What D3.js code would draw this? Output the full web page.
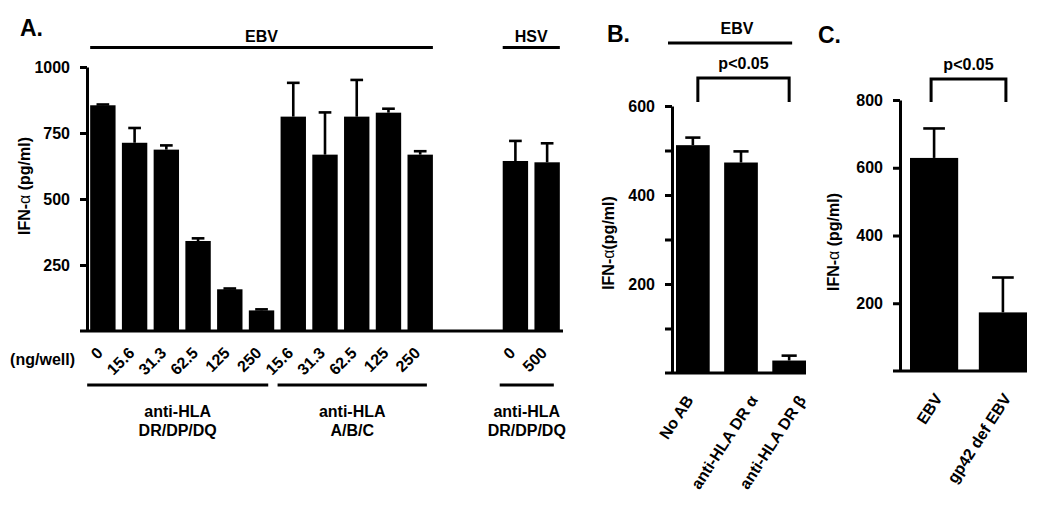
<!DOCTYPE html>
<html>
<head>
<meta charset="utf-8">
<script src="https://cdn.jsdelivr.net/npm/d3@7"></script>
<style>
  body { margin: 0; background: #fff; }
  svg { display: block; font-family: "Liberation Sans", Arial, Helvetica, sans-serif; font-weight: bold; }
  .axis path, .axis line { stroke: #000; stroke-width: 3; }
  .axis text { font-size: 16px; font-weight: bold; fill: #000; }
</style>
</head>
<body>
<svg id="chart" width="1050" height="513"></svg>
<script>
// ---- panel A : dose response, 15 slots (two empty spacers before HSV)
var doseLabelsA = ["0", "15.6", "31.3", "62.5", "125", "250", "15.6", "31.3", "62.5", "125", "250", "", "", "0", "500"];
var valuesA = [855, 713, 687, 341, 158, 78, 812, 668, 812, 827, 668, null, null, 644, 639];
var errorsA = [3, 56, 16, 10, 3, 4, 128, 160, 139, 15, 13, null, null, 76, 72];
var ticksA = [250, 500, 750, 1000];
var virusNamesA = ["EBV", "HSV"];
var virusSpansA = [[0, 10], [13, 14]];
var groupNamesA = [["anti-HLA", "DR/DP/DQ"], ["anti-HLA", "A/B/C"], ["anti-HLA", "DR/DP/DQ"]];
var groupSpansA = [[0, 5], [6, 10], [13, 14]];

// ---- panel B
var categoriesB = ["No AB", "anti-HLA DR α", "anti-HLA DR β"];
var valuesB = [512, 473, 28];
var errorsB = [17, 25, 11];
var ticksB = [100, 200, 300, 400, 500, 600];

// ---- panel C
var categoriesC = ["EBV", "gp42 def EBV"];
var valuesC = [629, 173];
var errorsC = [87, 103];
var ticksC = [200, 400, 600, 800];

var svg = d3.select("#chart");

function drawBars(g, x, y, keys, values, errors, capFrac) {
    var bw = x.bandwidth();
    var rows = keys.map(function (k, i) { return {k: k, v: values[i], e: errors[i]}; })
        .filter(function (d) { return d.v !== null; });
    g.selectAll("rect.bar").data(rows).join("rect")
        .attr("class", "bar")
        .attr("x", function (d) { return x(d.k); })
        .attr("width", bw)
        .attr("y", function (d) { return y(d.v); })
        .attr("height", function (d) { return y(0) - y(d.v); })
        .attr("fill", "#000");
    var eb = g.selectAll("g.err").data(rows).join("g").attr("class", "err")
        .attr("stroke", "#000").attr("stroke-width", 2.6);
    eb.append("line")
        .attr("x1", function (d) { return x(d.k) + bw / 2; })
        .attr("x2", function (d) { return x(d.k) + bw / 2; })
        .attr("y1", function (d) { return y(d.v); })
        .attr("y2", function (d) { return y(d.v + d.e); });
    eb.append("line")
        .attr("x1", function (d) { return x(d.k) + bw / 2 - bw * capFrac / 2; })
        .attr("x2", function (d) { return x(d.k) + bw / 2 + bw * capFrac / 2; })
        .attr("y1", function (d) { return y(d.v + d.e); })
        .attr("y2", function (d) { return y(d.v + d.e); });
}

function drawAxes(g, x, y, axisX, ticks, fmt) {
    g.append("g")
        .attr("class", "axis")
        .attr("transform", "translate(" + axisX + ",0)")
        .call(d3.axisLeft(y).tickValues(ticks).tickSize(7).tickSizeOuter(0).tickPadding(10).tickFormat(fmt));
    g.append("line")
        .attr("x1", axisX - 7).attr("x2", x.range()[1])
        .attr("y1", y(0)).attr("y2", y(0))
        .attr("stroke", "#000").attr("stroke-width", 3);
}

function yLabel(g, cx, cy, gap) {
    var t = g.append("text")
        .attr("transform", "translate(" + cx + "," + cy + ")rotate(-90)")
        .attr("text-anchor", "middle")
        .attr("font-size", 16);
    t.append("tspan").text("IFN-");
    t.append("tspan").attr("font-weight", "normal").text("α");
    t.append("tspan").text(gap ? " (pg/ml)" : "(pg/ml)");
}

function panelLetter(x0, y0, s) {
    svg.append("text").attr("x", x0).attr("y", y0).attr("font-size", 23).text(s);
}

function bracket(g, x1, x2, yTop, yBot, label) {
    g.append("path")
        .attr("d", "M" + x1 + "," + yBot + "V" + yTop + "H" + x2 + "V" + yBot)
        .attr("fill", "none").attr("stroke", "#000").attr("stroke-width", 3);
    g.append("text").attr("x", (x1 + x2) / 2).attr("y", yTop - 9)
        .attr("text-anchor", "middle").attr("font-size", 16).text(label);
}

// ================= Panel A
var gA = svg.append("g");
var keysA = d3.range(doseLabelsA.length);
var xA = d3.scaleBand().domain(keysA).range([87, 563]).paddingInner(0.2).paddingOuter(0.1);
var yA = d3.scaleLinear().domain([0, 1000]).range([331, 67]);
drawBars(gA, xA, yA, keysA, valuesA, errorsA, 0.5);
drawAxes(gA, xA, yA, 87, ticksA, d3.format("d"));
yLabel(gA, 30, 186, true);
panelLetter(20, 36, "A.");

gA.selectAll("text.dose").data(keysA.filter(function (k) { return doseLabelsA[k] !== ""; })).join("text")
    .attr("class", "dose")
    .attr("text-anchor", "end")
    .attr("font-size", 16)
    .attr("transform", function (k) {
        return "translate(" + (xA(k) + xA.bandwidth() / 2 + 1) + "," + (yA(0) + 23) + ")rotate(-45)";
    })
    .text(function (k) { return doseLabelsA[k]; });
gA.append("text").attr("x", 75).attr("y", 365).attr("text-anchor", "end")
    .attr("font-size", 16).text("(ng/well)");

virusSpansA.forEach(function (s, i) {
    var x1 = xA(s[0]), x2 = xA(s[1]) + xA.bandwidth();
    gA.append("line").attr("x1", x1).attr("x2", x2).attr("y1", 47.5).attr("y2", 47.5)
        .attr("stroke", "#000").attr("stroke-width", 3);
    gA.append("text").attr("x", (x1 + x2) / 2).attr("y", 42).attr("text-anchor", "middle")
        .attr("font-size", 16).text(virusNamesA[i]);
});
groupSpansA.forEach(function (s, i) {
    var x1 = xA(s[0]) - 3, x2 = xA(s[1]) + xA.bandwidth() - 6;
    gA.append("line").attr("x1", x1).attr("x2", x2).attr("y1", 385).attr("y2", 385)
        .attr("stroke", "#000").attr("stroke-width", 3);
    groupNamesA[i].forEach(function (line, j) {
        gA.append("text").attr("x", (x1 + x2) / 2).attr("y", 417 + j * 19)
            .attr("text-anchor", "middle").attr("font-size", 16).text(line);
    });
});

// ================= Panel B
var gB = svg.append("g");
var xB = d3.scaleBand().domain(categoriesB).range([676, 806]).paddingInner(0.3).paddingOuter(0);
var yB = d3.scaleLinear().domain([0, 600]).range([373, 106]);
drawBars(gB, xB, yB, categoriesB, valuesB, errorsB, 0.45);
drawAxes(gB, xB, yB, 672, ticksB, function (d) { return d % 200 === 0 ? d : ""; });
yLabel(gB, 614, 243, false);
panelLetter(607, 42, "B.");
// labels rotate about their middle, which sits a little left of the bar centre
var angB = 57 * Math.PI / 180;
gB.selectAll("text.cat").data(categoriesB).join("text")
    .attr("class", "cat")
    .attr("text-anchor", "end")
    .attr("font-size", 16)
    .text(function (d) { return d; })
    .attr("transform", function (d) {
        var len = this.getComputedTextLength();
        var ex = xB(d) + xB.bandwidth() / 2 - 12 + len / 2 * Math.cos(angB);
        return "translate(" + ex + "," + (yB(0) + 27) + ")rotate(-57)";
    });
gB.append("line").attr("x1", 668).attr("x2", xB(categoriesB[2]) + xB.bandwidth() / 2 + 3)
    .attr("y1", 43).attr("y2", 43).attr("stroke", "#000").attr("stroke-width", 3);
gB.append("text").attr("x", 737).attr("y", 34).attr("text-anchor", "middle")
    .attr("font-size", 16).text("EBV");
bracket(gB, xB(categoriesB[0]) + xB.bandwidth() / 2 + 5, xB(categoriesB[2]) + xB.bandwidth() / 2, 78, 102, "p<0.05");

// ================= Panel C
var gC = svg.append("g");
var xC = d3.scaleBand().domain(categoriesC).range([910, 1027]).paddingInner(0.3).paddingOuter(0);
var yC = d3.scaleLinear().domain([0, 800]).range([371, 100]);
drawBars(gC, xC, yC, categoriesC, valuesC, errorsC, 0.45);
drawAxes(gC, xC, yC, 900, ticksC, d3.format("d"));
yLabel(gC, 839, 242, true);
panelLetter(818, 43, "C.");
gC.selectAll("text.cat").data(categoriesC).join("text")
    .attr("class", "cat")
    .attr("text-anchor", "end")
    .attr("font-size", 16)
    .attr("transform", function (d) {
        return "translate(" + (xC(d) + xC.bandwidth() / 2 + 9) + "," + (yC(0) + 27) + ")rotate(-57)";
    })
    .text(function (d) { return d; });
bracket(gC, xC(categoriesC[0]) + xC.bandwidth() / 2 - 3, xC(categoriesC[1]) + xC.bandwidth() / 2 + 3, 79, 102, "p<0.05");
</script>
</body>
</html>
